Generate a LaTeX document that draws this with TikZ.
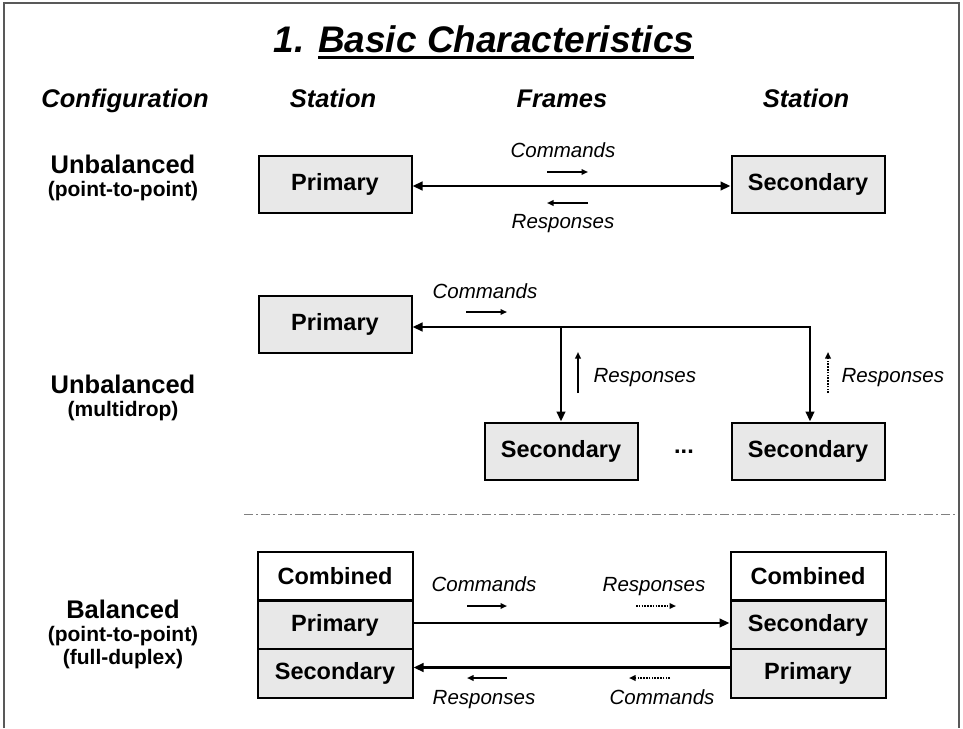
\documentclass[tikz,border=0pt]{standalone}
\usepackage{fontspec}
\setmainfont{Liberation Sans}
\usetikzlibrary{arrows.meta}
\definecolor{boxfill}{gray}{0.91}
\definecolor{framecol}{gray}{0.35}
% thick underline placed under a word group
\newcommand\thickul[1]{\setbox0=\hbox{#1}\rlap{\rule[-6.5pt]{\wd0}{2.6pt}}\box0}
\begin{document}
\begin{tikzpicture}[x=1pt,y=-1pt,
  titlefont/.style={font=\fontsize{37}{43}\selectfont\bfseries\itshape},
  headfont/.style={font=\fontsize{25.5}{30}\selectfont\bfseries\itshape},
  rowhead/.style={font=\fontsize{25.5}{30}\selectfont\bfseries, anchor=base},
  rowsub/.style={font=\fontsize{21}{25}\selectfont\bfseries, anchor=base},
  lbl/.style={font=\fontsize{20.5}{24}\selectfont\itshape, anchor=base},
  stbox/.style={draw, line width=2pt, fill=boxfill, minimum width=153pt,
    minimum height=57pt, inner sep=0pt, font=\fontsize{23.5}{27}\selectfont\bfseries},
  cell/.style={stbox, minimum width=155pt, minimum height=48.5pt},
  main/.style={line width=2.9pt},
  small/.style={line width=1.6pt},
  dotline/.style={dash pattern=on 1.6pt off 1.2pt},
  bigtip/.tip={Triangle[length=10pt,width=8.5pt]},
  smalltip/.tip={Triangle[length=6.5pt,width=5.5pt]},
  sepline/.style={line width=0.8pt, draw=gray, dash pattern=on 9pt off 3pt on 2pt off 3pt},
  frame/.style={line width=1.2pt, draw=framecol}
]
\useasboundingbox (0,0) rectangle (963,728);

% outer frame
\draw[frame] (4,728) -- (4,3) -- (959,3) -- (959,728);

% title and column heads
\node[titlefont, anchor=base] (title) at (484,52) {1. \thickul{Basic Characteristics}};
\node[headfont, anchor=base] (hconf) at (125,107) {Configuration};
\node[headfont, anchor=base] (hst1) at (333,107) {Station};
\node[headfont, anchor=base] (hfr) at (562,107) {Frames};
\node[headfont, anchor=base] (hst2) at (806,107) {Station};

% ---- unbalanced, point-to-point
\node[rowhead] (r1a) at (123,173) {Unbalanced};
\node[rowsub] (r1b) at (123,196) {(point-to-point)};
\node[stbox] (p1) at (335,184) {Primary};
\node[stbox] (s1) at (808,184) {Secondary};
\draw[main,{bigtip}-{bigtip}] ([yshift=-2pt]p1.east) -- ([yshift=-2pt]s1.west);
\node[lbl] (r1cmd) at (563,157) {Commands};
\coordinate (r1c1) at (547,172);
\coordinate (r1c2) at (588,172);
\draw[small,-{smalltip}] (r1c1) -- (r1c2);
\coordinate (r1r1) at (588,203);
\coordinate (r1r2) at (547,203);
\draw[small,-{smalltip}] (r1r1) -- (r1r2);
\node[lbl] (r1rsp) at (563,228) {Responses};

% ---- unbalanced, multidrop
\node[rowhead] (r2a) at (123,393) {Unbalanced};
\node[rowsub] (r2b) at (123,416) {(multidrop)};
\node[stbox] (p2) at (335,324) {Primary};
\node[stbox] (s2a) at (561,451) {Secondary};
\node[stbox] (s2b) at (808,451) {Secondary};
\node[font=\fontsize{23.5}{27}\selectfont\bfseries] (dots) at (684,452) {...};
\coordinate (j2) at (810,327);
\coordinate (j1) at (s2a.north |- j2);
\draw[main,{bigtip}-{bigtip}] (p2.east |- j2) -- (j2) -- (j2 |- s2b.north);
\draw[main,-{bigtip}] (j1) -- (s2a.north);
\node[lbl] (r2cmd) at (485,298) {Commands};
\coordinate (r2c1) at (466,312);
\coordinate (r2c2) at (507,312);
\draw[small,-{smalltip}] (r2c1) -- (r2c2);
\coordinate (r2u1) at (578,393);
\coordinate (r2u2) at (578,352);
\draw[small,-{smalltip}] (r2u1) -- (r2u2);
\node[lbl, anchor=base west] (r2rsp1) at (590,382) {Responses};
\coordinate (r2v1) at (828,393);
\coordinate (r2v2) at (828,352);
\draw[small,dotline,-{smalltip}] (r2v1) -- (r2v2);
\node[lbl, anchor=base west] (r2rsp2) at (838,382) {Responses};

% separator
\coordinate (sepL) at (244,514);
\coordinate (sepR) at (958,514);
\draw[sepline] (sepL) -- (sepR);

% ---- balanced
\node[rowhead] (r3a) at (123,618) {Balanced};
\node[rowsub] (r3b) at (123,641) {(point-to-point)};
\node[rowsub] (r3c) at (123,664) {(full-duplex)};
\node[cell, fill=white] (lc) at (335,576) {Combined};
\node[cell] (lp) at (335,625) {Primary};
\node[cell] (ls) at (335,673.5) {Secondary};
\node[cell, fill=white] (rc) at (808,576) {Combined};
\node[cell] (rs) at (808,625) {Secondary};
\node[cell] (rp) at (808,673.5) {Primary};
\draw[main,-{bigtip}] ([yshift=2pt]lp.east) -- ([yshift=2pt]rs.west);
\draw[main,-{bigtip}] ([yshift=6pt]rp.west) -- ([yshift=6pt]ls.east);
\node[lbl] (r3cmd1) at (484,591) {Commands};
\node[lbl] (r3rsp1) at (654,591) {Responses};
\coordinate (r3a1) at (467,606);
\coordinate (r3a2) at (507,606);
\draw[small,-{smalltip}] (r3a1) -- (r3a2);
\coordinate (r3b1) at (636,606);
\coordinate (r3b2) at (676,606);
\draw[small,dotline,-{smalltip}] (r3b1) -- (r3b2);
\coordinate (r3c1) at (507,678);
\coordinate (r3c2) at (467,678);
\draw[small,-{smalltip}] (r3c1) -- (r3c2);
\coordinate (r3d1) at (670,678);
\coordinate (r3d2) at (629,678);
\draw[small,dotline,-{smalltip}] (r3d1) -- (r3d2);
\node[lbl] (r3rsp2) at (484,704) {Responses};
\node[lbl] (r3cmd2) at (662,704) {Commands};
\end{tikzpicture}
\end{document}
